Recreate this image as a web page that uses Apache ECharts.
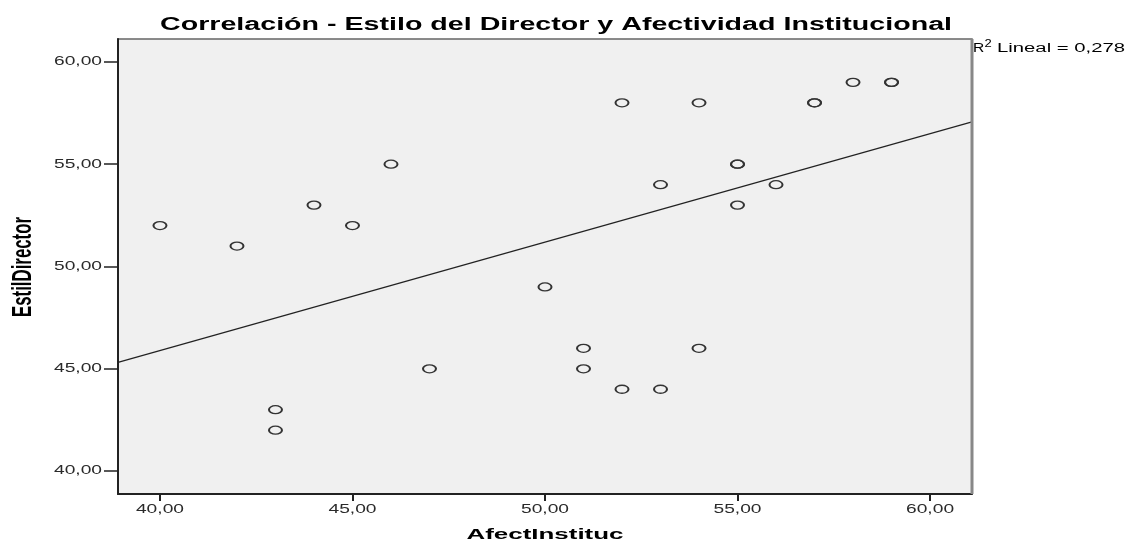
<!DOCTYPE html>
<html>
<head>
<meta charset="utf-8">
<script src="https://cdn.jsdelivr.net/npm/echarts@6/dist/echarts.min.js"></script>
<style>
html,body{margin:0;padding:0;background:#fff;overflow:hidden;}
#chart{width:1127px;height:542px;}
</style>
</head>
<body>
<div id="chart"></div>
<script>
// Data
const afectInstituc = [40,42,43,43,44,45,46,47,50,51,51,52,52,53,53,54,54,55,55,55,56,57,57,58,59,59];
const estilDirector = [52,51,43,42,53,52,55,45,49,46,45,58,44,54,44,58,46,55,55,53,54,58,58,59,59,59];
const fitLineX = [38.91, 61.09];
const fitLineY = [45.31, 57.07];
const tickValues = [40,45,50,55,60];
const titleText = 'Correlación - Estilo del Director y Afectividad Institucional';
const xName = 'AfectInstituc';
const yName = 'EstilDirector';
const r2Label = 'Lineal = 0,278';

const points = afectInstituc.map((x,i)=>[x, estilDirector[i]]);
const fitLine = fitLineX.map((x,i)=>[x, fitLineY[i]]);
const fmt = v => v.toFixed(2).replace('.', ',');
const FONT = 'Liberation Sans, Arial, sans-serif';

const ctx = document.createElement('canvas').getContext('2d');
function textW(t, size, weight){ ctx.font = (weight||'normal')+' '+size+'px Liberation Sans, Arial, sans-serif'; return ctx.measureText(t).width; }

const chart = echarts.init(document.getElementById('chart'));
chart.setOption({
  backgroundColor:'#ffffff',
  animation:false,
  textStyle:{fontFamily:FONT},
  grid:{left:118,right:155,top:39,bottom:48,outerBoundsMode:'none',containLabel:false,show:true,backgroundColor:'#f0f0f0',borderColor:'#666',borderWidth:1.5},
  xAxis:{
    type:'value', min:38.91, max:61.09,
    axisLine:{show:true,lineStyle:{color:'#222',width:2}},
    axisTick:{show:true,length:7,customValues:tickValues,lineStyle:{color:'#222',width:2}},
    axisLabel:{show:false},
    splitLine:{show:false}
  },
  yAxis:{
    type:'value', min:38.88, max:61.12,
    axisLine:{show:true,lineStyle:{color:'#222',width:2}},
    axisTick:{show:true,length:14,customValues:tickValues,lineStyle:{color:'#222',width:1.5}},
    axisLabel:{show:false},
    splitLine:{show:false}
  },
  series:[
    {type:'line',data:fitLine,symbol:'none',lineStyle:{color:'#222',width:1.2},silent:true,z:2},
    {type:'scatter',data:points,symbol:'circle',symbolSize:[13,8],
     itemStyle:{color:'rgba(240,240,240,0)',borderColor:'#333',borderWidth:1.6,opacity:1},z:3}
  ]
});

// Text, stretched horizontally like the reference
const S = 1.6;
const graphics = [];
graphics.push({type:'line',shape:{x1:972,y1:39,x2:972,y2:494},style:{stroke:'#888',lineWidth:3},z:100});
tickValues.forEach(v=>{
  const px = chart.convertToPixel({gridIndex:0},[v, 40]);
  const py = chart.convertToPixel({gridIndex:0},[40, v]);
  graphics.push({type:'text',x:px[0],y:504,scaleX:S,z:100,
    style:{text:fmt(v),x:0,y:0,align:'center',verticalAlign:'top',fontSize:12,fontFamily:FONT,fill:'#2a2a2a'}});
  graphics.push({type:'text',x:102,y:py[1],scaleX:S,z:100,
    style:{text:fmt(v),x:0,y:0,align:'right',verticalAlign:'middle',fontSize:12,fontFamily:FONT,fill:'#2a2a2a'}});
});
// title
graphics.push({type:'text',x:556,y:25,scaleX:792/textW(titleText,18,'bold'),z:100,
  style:{text:titleText,x:0,y:0,align:'center',verticalAlign:'middle',fontSize:18,fontWeight:'bold',fontFamily:FONT,fill:'#000'}});
// x name
graphics.push({type:'text',x:545,y:535,scaleX:157/textW(xName,15,'bold'),z:100,
  style:{text:xName,x:0,y:0,align:'center',verticalAlign:'middle',fontSize:15,fontWeight:'bold',fontFamily:FONT,fill:'#000'}});
// y name (rotated, stretched across)
graphics.push({type:'text',x:23,y:267,rotation:Math.PI/2,scaleX:100/textW(yName,17,'bold'),scaleY:S,z:100,
  style:{text:yName,x:0,y:0,align:'center',verticalAlign:'middle',fontSize:17,fontWeight:'bold',fontFamily:FONT,fill:'#000'}});
// R2 label: "R", superscript "2", then the rest
graphics.push({type:'text',x:973,y:49,scaleX:1.3,z:100,
  style:{text:'R',x:0,y:0,align:'left',verticalAlign:'middle',fontSize:12,fontFamily:FONT,fill:'#000'}});
graphics.push({type:'text',x:984.5,y:44,scaleX:1.3,z:100,
  style:{text:'2',x:0,y:0,align:'left',verticalAlign:'middle',fontSize:10,fontFamily:FONT,fill:'#000'}});
graphics.push({type:'text',x:997,y:49,scaleX:(1125-997)/textW(r2Label,12),z:100,
  style:{text:r2Label,x:0,y:0,align:'left',verticalAlign:'middle',fontSize:12,fontFamily:FONT,fill:'#000'}});
chart.setOption({graphic:graphics});
</script>
</body>
</html>
